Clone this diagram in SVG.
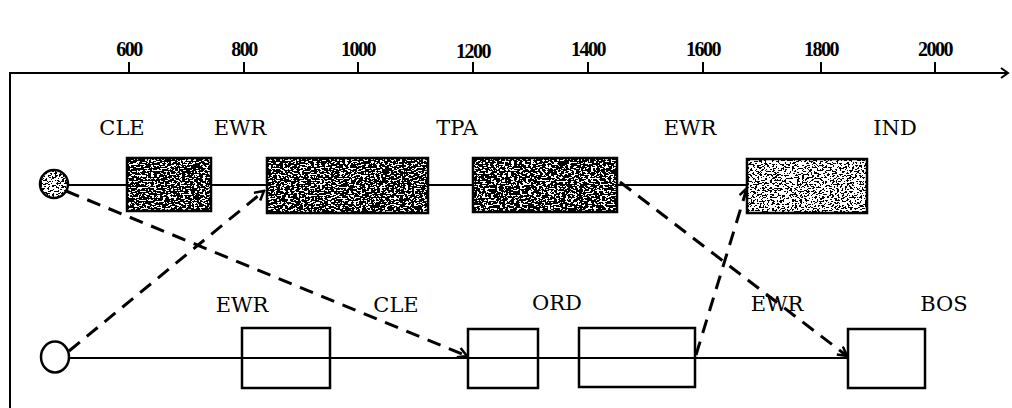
<svg xmlns="http://www.w3.org/2000/svg" width="1012" height="408" viewBox="0 0 1012 408">
<style>
.lbl{font-family:"DejaVu Serif","Liberation Serif",serif;font-size:21px;fill:#000;text-anchor:middle}
.tick{font-family:"Liberation Serif","DejaVu Serif",serif;font-size:20px;font-weight:bold;fill:#000;text-anchor:middle;letter-spacing:-1.5px}
.box{fill:none;stroke:#000;stroke-width:2.5}
.solid{fill:none;stroke:#000;stroke-width:2}
.dash{fill:none;stroke:#000;stroke-width:3;stroke-dasharray:14 9;marker-end:url(#ah)}
</style>
<defs>
<marker id="ah" viewBox="0 0 12 12" refX="10" refY="6" markerWidth="12" markerHeight="12" markerUnits="userSpaceOnUse" orient="auto">
<path d="M1,1 L10,6 L1,11" fill="none" stroke="#000" stroke-width="2.5"/>
</marker>
<marker id="axh" viewBox="0 0 10 12" refX="8" refY="6" markerWidth="10" markerHeight="12" markerUnits="userSpaceOnUse" orient="auto">
<path d="M1,1 L8,6 L1,11" fill="none" stroke="#000" stroke-width="2"/>
</marker>
<filter id="dark" x="0" y="0" width="100%" height="100%">
<feTurbulence type="fractalNoise" baseFrequency="0.35 0.7" numOctaves="2" seed="4" result="n"/>
<feColorMatrix in="n" type="matrix" values="0 0 0 0 0 0 0 0 0 0 0 0 0 0 0 1 0 0 0 0" result="a"/>
<feComponentTransfer in="a" result="t"><feFuncA type="discrete" tableValues="0 0 0 0 0 0 0 0 0 1 1 1 1 1 1 1 1 1 1 1"/></feComponentTransfer>
<feComposite in="t" in2="SourceAlpha" operator="in"/>
</filter>
<filter id="light" x="0" y="0" width="100%" height="100%">
<feTurbulence type="fractalNoise" baseFrequency="0.4 0.7" numOctaves="2" seed="9" result="n"/>
<feColorMatrix in="n" type="matrix" values="0 0 0 0 0 0 0 0 0 0 0 0 0 0 0 1 0 0 0 0" result="a"/>
<feComponentTransfer in="a" result="t"><feFuncA type="discrete" tableValues="0 0 0 0 0 0 0 0 0 0 0 1 1 1 1 1 1 1 1 1"/></feComponentTransfer>
<feComposite in="t" in2="SourceAlpha" operator="in"/>
</filter>
</defs>
<rect width="1012" height="408" fill="#fff"/>

<g id="axis">
<line x1="10" y1="73" x2="1008" y2="73" class="solid" marker-end="url(#axh)"/>
<line x1="10" y1="72" x2="10" y2="408" class="solid"/>
<path d="M129,62V73M244,62V73M358,62V73M473,62V73M588,62V73M703,62V73M821,62V73M935,62V73" class="solid" stroke-width="1.5"/>
<text class="tick" x="129" y="56">600</text>
<text class="tick" x="244" y="56">800</text>
<text class="tick" x="358" y="56">1000</text>
<text class="tick" x="473" y="58">1200</text>
<text class="tick" x="588" y="56">1400</text>
<text class="tick" x="703" y="56">1600</text>
<text class="tick" x="821" y="56">1800</text>
<text class="tick" x="935" y="56">2000</text>
</g>

<g id="connectors">
<line x1="68" y1="185" x2="747" y2="185" class="solid"/>
<line x1="69" y1="358" x2="848" y2="358" class="solid"/>
<path d="M66,191 L467,356" class="dash"/>
<path d="M69,351 L264,191" class="dash"/>
<path d="M620,182 L847,356" class="dash"/>
<path d="M696,355 L747,188" class="dash"/>
</g>

<g id="start-top">
<circle cx="54" cy="184" r="14" fill="#fff"/>
<circle cx="54" cy="184" r="14" fill="#000" filter="url(#light)"/>
<circle cx="54" cy="184" r="14" class="box"/>
</g>
<g id="start-bottom">
<ellipse cx="55" cy="357" rx="14" ry="15.5" fill="#fff" class="box"/>
</g>

<g id="top-cle">
<rect x="127" y="158" width="84" height="53" fill="#fff"/>
<rect x="127" y="158" width="84" height="53" fill="#000" filter="url(#dark)"/>
<rect x="127" y="158" width="84" height="53" class="box"/>
<text class="lbl" x="122" y="135">CLE</text>
</g>
<g id="top-ewr">
<rect x="267" y="158" width="161" height="55" fill="#fff"/>
<rect x="267" y="158" width="161" height="55" fill="#000" filter="url(#dark)"/>
<rect x="267" y="158" width="161" height="55" class="box"/>
<text class="lbl" x="240" y="135">EWR</text>
</g>
<g id="top-tpa">
<rect x="473" y="158" width="144" height="54" fill="#fff"/>
<rect x="473" y="158" width="144" height="54" fill="#000" filter="url(#dark)"/>
<rect x="473" y="158" width="144" height="54" class="box"/>
<text class="lbl" x="457" y="135">TPA</text>
</g>
<g id="top-ind">
<rect x="747" y="159" width="120" height="54" fill="#fff"/>
<rect x="747" y="159" width="120" height="54" fill="#000" filter="url(#light)"/>
<rect x="747" y="159" width="120" height="54" class="box"/>
<text class="lbl" x="690" y="135">EWR</text>
<text class="lbl" x="895" y="135">IND</text>
</g>

<g id="bot-ewr">
<rect x="242" y="328" width="88" height="60" fill="#fff" class="box"/>
<text class="lbl" x="242" y="312">EWR</text>
</g>
<g id="bot-ord">
<rect x="468" y="329" width="70" height="59" fill="#fff" class="box"/>
<text class="lbl" x="396" y="312">CLE</text>
<text class="lbl" x="557" y="310">ORD</text>
</g>
<g id="bot-mid">
<rect x="579" y="328" width="116" height="59" fill="#fff" class="box"/>
<text class="lbl" x="777" y="311">EWR</text>
</g>
<g id="bot-bos">
<rect x="848" y="329" width="77" height="59" fill="#fff" class="box"/>
<text class="lbl" x="944" y="311">BOS</text>
</g>
</svg>
